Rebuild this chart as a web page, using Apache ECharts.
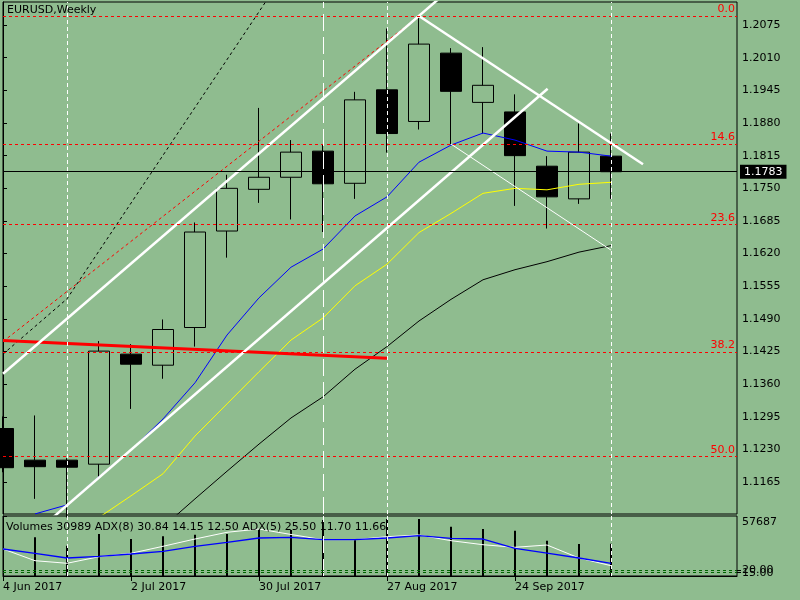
<!DOCTYPE html>
<html><head><meta charset="utf-8">
<script src="https://cdn.jsdelivr.net/npm/echarts@6/dist/echarts.min.js"></script>
<style>html,body{margin:0;padding:0;background:#8FBC8F;}#c{width:800px;height:600px;}</style>
</head><body><div id="c"></div>
<script>
// ---- data ----
const dates = ['4 Jun 2017','11 Jun 2017','18 Jun 2017','25 Jun 2017','2 Jul 2017','9 Jul 2017','16 Jul 2017','23 Jul 2017','30 Jul 2017','6 Aug 2017','13 Aug 2017','20 Aug 2017','27 Aug 2017','3 Sep 2017','10 Sep 2017','17 Sep 2017','24 Sep 2017','1 Oct 2017','8 Oct 2017','15 Oct 2017'];
const open  = [1.1272,1.1209,1.1209,1.1201,1.1420,1.1398,1.1473,1.1665,1.1748,1.1772,1.1824,1.1760,1.1946,1.1883,1.2019,1.1921,1.1902,1.1794,1.1729,1.1814];
const close = [1.1194,1.1196,1.1195,1.1426,1.1400,1.1469,1.1663,1.1750,1.1772,1.1822,1.1759,1.1926,1.1859,1.2037,1.1943,1.1955,1.1815,1.1733,1.1822,1.1783];
const low   = [1.1185,1.1132,1.1095,1.1173,1.1311,1.1371,1.1435,1.1612,1.1721,1.1688,1.1663,1.1729,1.1821,1.1867,1.1838,1.1859,1.1715,1.1670,1.1719,1.1729];
const high  = [1.1296,1.1298,1.1213,1.1446,1.1440,1.1489,1.1682,1.1777,1.1910,1.1846,1.1838,1.1942,1.2068,1.2093,1.2029,1.2031,1.1937,1.1814,1.1879,1.1859];
const maBlue   = [null,1.1102,1.1120,1.1176,1.1229,1.1291,1.1363,1.1458,1.1532,1.1593,1.1629,1.1695,1.1733,1.1802,1.1836,1.1860,1.1846,1.1824,1.1822,1.1814];
const maYellow = [null,null,null,1.1095,1.1138,1.1182,1.1257,1.1321,1.1385,1.1448,1.1492,1.1556,1.1599,1.1662,1.1700,1.1740,1.1750,1.1747,1.1758,1.1762];
const maBlack  = [null,null,null,null,null,1.1076,1.1132,1.1187,1.1241,1.1293,1.1335,1.1390,1.1435,1.1486,1.1529,1.1568,1.1588,1.1604,1.1623,1.1636];
const volumes  = [null,37208,29132,40381,35574,38170,39708,40381,44227,44227,53841,34612,54803,54803,47400,45188,43554,33939,30766,30989];
const adxBlue  = [64.4,55.4,45.6,49.2,54.0,59.6,70.0,78.3,87.3,88.8,83.8,83.8,87.3,92.1,86.7,85.2,65.8,56.0,45.6,34.6];
const adxWhite = [64.4,40.0,34.6,48.3,55.4,70.0,85.2,99.2,106.0,94.6,83.8,83.8,90.0,93.5,81.7,73.3,67.9,72.7,45.6,29.6];
const adx8Header = [30.84,14.15,12.50];
const adx5Header = [25.50,11.70,11.66];
const adxLevels = [15,20];
const volMax = 57687;
const fibLevels = [1.2093,1.1838,1.1678,1.1424,1.1217];
const fibNames  = ['0.0','14.6','23.6','38.2','50.0'];
const verticalMarks = [2,10,12,19];
const upperChannel = [[0,1.1381],[14,1.2148]];
const lowerChannel = [[1,1.1064],[17.02,1.1948]];
const resistance   = [[13,1.2093],[20,1.1798]];
const thinLine     = [[14,1.1838],[19,1.1627]];
const fibDiagonal  = [[0,1.1445],[13,1.2093]];
const steepDashed  = [[0,1.1420],[2,1.1530],[8.5,1.2149]];
const redLevel     = [[0,1.1447],[12,1.1412]];
const yTicks = [1.1165,1.1230,1.1295,1.1360,1.1425,1.1490,1.1555,1.1620,1.1685,1.1750,1.1815,1.1880,1.1945,1.2010,1.2075];
const xTickIdx = [0,4,8,12,16];

// ---- chart ----
const FONT = 'DejaVu Sans';
const BG = '#8FBC8F';
const X_MAX = 734/32;
const Y_MIN = 1.2075 - 489/5025, Y_MAX = 1.2075 + 23/5025;
const ADX_MIN = 20 - 5.7/0.48, ADX_MAX = 20 + 54.3/0.48;
const pts = arr => arr.map((v,i)=>[i,v]).filter(p=>p[1]!=null);
const txt = {fontSize:11, fontWeight:'normal', color:'#000', fontFamily:FONT};
const lbl = {color:'#000', fontSize:11, fontFamily:FONT};
function ln(data, color, width, type, z){
  return {type:'line', xAxisIndex:0, yAxisIndex:0, data, symbol:'none', showSymbol:false,
    lineStyle:{color, width, type: type||'solid'}, clip:true, silent:true, z: z||3, animation:false};
}
const subHeader = 'Volumes ' + volumes[volumes.length-1] + ' ADX(8) ' + adx8Header.map(v=>v.toFixed(2)).join(' ') +
  ' ADX(5) ' + adx5Header.map(v=>v.toFixed(2)).join(' ');

const mainMarks = [];
fibLevels.forEach((v,i)=>mainMarks.push({yAxis:v, lineStyle:{color:'#FF0000', type:[3,3], width:1},
  label:{show:true, position:'insideEndTop', formatter:fibNames[i], color:'#FF0000', fontSize:11, fontFamily:FONT, distance:[2,1]}}));
verticalMarks.forEach(k=>mainMarks.push({xAxis:k, lineStyle:{color:'#FFFFFF', type: k===10?[17,6]:[4,3], width:1}, label:{show:false}}));
mainMarks.push({yAxis:close[close.length-1], lineStyle:{color:'#000', type:'solid', width:1},
  label:{show:true, position:'end', formatter:close[close.length-1].toFixed(4), backgroundColor:'#000', color:'#FFFFFF',
    padding:[2,4,1,4], distance:3, fontSize:11, fontFamily:FONT}});

function subAxis(min, max, vals, fmt, labelExtra, lineShow){
  return {type:'value', gridIndex:1, position:'right', min, max,
    axisLine:{show:!!lineShow, lineStyle:{color:'#000'}},
    axisTick:{show:true, customValues:vals, length:4, lineStyle:{color:'#000'}},
    axisLabel:Object.assign({show:true, customValues:vals, formatter:fmt, margin:5}, lbl, labelExtra||{}),
    splitLine:{show:false}};
}

const option = {
  backgroundColor: BG, animation:false, textStyle:{fontFamily:FONT},
  title:[
    {text:'EURUSD,Weekly', left:7, top:5, padding:0, textStyle:txt},
    {text:subHeader, left:6, top:522, padding:0, textStyle:txt}
  ],
  grid:[
    {left:3, top:2, width:734, height:512, show:true, borderColor:'#000', borderWidth:1, backgroundColor:'transparent'},
    {left:3, top:516, width:734, height:60, show:true, borderColor:'#000', borderWidth:1, backgroundColor:'transparent'}
  ],
  xAxis:[
    {type:'value', gridIndex:0, min:0, max:X_MAX, show:false},
    {type:'value', gridIndex:1, min:0, max:X_MAX, position:'bottom',
      axisLine:{show:true, lineStyle:{color:'#000'}},
      axisTick:{show:true, customValues:xTickIdx, length:5, lineStyle:{color:'#000'}},
      axisLabel:Object.assign({show:true, customValues:xTickIdx, formatter:v=>dates[Math.round(v)], align:'left', margin:6}, lbl),
      splitLine:{show:false}}
  ],
  yAxis:[
    {type:'value', gridIndex:0, position:'right', min:Y_MIN, max:Y_MAX,
      axisLine:{show:true, lineStyle:{color:'#000'}},
      axisTick:{show:true, customValues:yTicks, length:4, lineStyle:{color:'#000'}},
      axisLabel:Object.assign({show:true, customValues:yTicks, formatter:v=>v.toFixed(4), margin:5}, lbl),
      splitLine:{show:false}},
    subAxis(0, volMax, [volMax], v=>String(Math.round(v)), {verticalAlign:'top', padding:[1,0,0,0]}, true),
    subAxis(ADX_MIN, ADX_MAX, [adxLevels[1]], v=>v.toFixed(2)),
    subAxis(ADX_MIN, ADX_MAX, [adxLevels[0]], v=>v.toFixed(2))
  ],
  series:[
    {type:'candlestick', name:'EURUSD', xAxisIndex:0, yAxisIndex:0, barWidth:22, clip:true, z:2,
      data: open.map((o,i)=>[i,o,close[i],low[i],high[i]]),
      encode:{x:0, y:[1,2,3,4]},
      itemStyle:{color:'transparent', color0:'#000', borderColor:'#000', borderColor0:'#000', borderWidth:1},
      markLine:{symbol:['none','none'], precision:5, silent:true, animation:false, data:mainMarks}},
    ln(pts(maBlack), '#000000', 1),
    ln(pts(maYellow), '#FFFF00', 1),
    ln(pts(maBlue), '#0000FF', 1),
    ln(fibDiagonal, '#FF0000', 1, [3,3]),
    ln(steepDashed, '#000000', 1, [3,3]),
    ln(redLevel, '#FF0000', 3),
    ln(thinLine, '#FFFFFF', 1),
    ln(upperChannel, '#FFFFFF', 2.5),
    ln(lowerChannel, '#FFFFFF', 2.5),
    ln(resistance, '#FFFFFF', 2.5),
    {type:'bar', xAxisIndex:1, yAxisIndex:1, barWidth:2, data:pts(volumes), itemStyle:{color:'#000'}, silent:true, clip:true, z:2,
      markLine:{symbol:['none','none'], precision:5, silent:true, animation:false,
        data: verticalMarks.map(k=>({xAxis:k, lineStyle:{color:'#FFFFFF', type:k===10?[17,6]:[4,3], width:1}, label:{show:false}}))}},
    {type:'line', xAxisIndex:1, yAxisIndex:2, data:pts(adxWhite), symbol:'none', showSymbol:false, lineStyle:{color:'#FFFFFF', width:1}, silent:true, z:3},
    {type:'line', xAxisIndex:1, yAxisIndex:2, data:pts(adxBlue), symbol:'none', showSymbol:false, lineStyle:{color:'#0000FF', width:1.3}, silent:true, z:3,
      markLine:{symbol:['none','none'], precision:5, silent:true, animation:false,
        data: adxLevels.map(v=>({yAxis:v})), lineStyle:{color:'#006400', type:[3,3], width:1}, label:{show:false}}}
  ]
};
const chart = echarts.init(document.getElementById('c'), null, {renderer:'canvas'});
chart.setOption(option);
</script></body></html>
